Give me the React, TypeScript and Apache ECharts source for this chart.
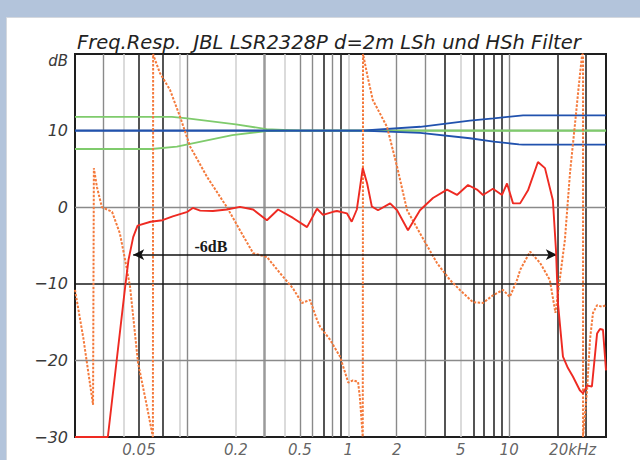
import React, { useEffect, useRef } from 'react';
import * as echarts from 'echarts';

// ---- data (frequency in kHz, level in dB) ----
const xMin = 0.02;
const xMax = 40;
const yMin = -30;
const yMax = 20;
const xLabelValues = [0.05, 0.2, 0.5, 1, 2, 5, 10, 20];
const xLabelTexts = ['0.05', '0.2', '0.5', '1', '2', '5', '10', '20kHz'];
const gridDark = [0.05, 0.07, 0.7, 0.9, 4, 6, 7, 8, 9, 20, 30];
const gridGray = [0.03, 0.1, 0.5, 0.6, 0.8, 2, 3, 10];
const gridGrayWide = [0.3];
const gridLight = [0.04, 0.09, 0.2, 0.4, 1, 5];
const hGridGray = [10, 0, -20];
const hGridDark = [-10];

const response: number[][] = [
  [0.02, -30], [0.032, -30], [0.041, -10.4], [0.043, -6.9], [0.046, -3.9], [0.049, -2.4],
  [0.059, -1.9], [0.07, -1.7], [0.081, -1.2], [0.09, -0.9], [0.1, -0.6], [0.108, -0.1],
  [0.12, -0.45], [0.144, -0.5], [0.176, -0.3], [0.212, 0.05], [0.256, -0.3], [0.312, -1.7],
  [0.366, -0.3], [0.453, -1.4], [0.554, -2.6], [0.639, -0.2], [0.696, -1.0], [0.804, -0.6],
  [0.85, -0.5], [0.98, -0.8], [1.05, -1.9], [1.13, -0.3], [1.23, 5.1], [1.31, 3.1],
  [1.4, 0.1], [1.53, -0.4], [1.82, 0.5], [2.01, -0.4], [2.35, -3.0], [2.79, -0.4],
  [3.36, 1.2], [4.11, 2.3], [4.74, 1.6], [5.55, 2.9], [6.31, 2.3], [6.88, 1.6],
  [7.93, 2.4], [9.03, 1.6], [9.7, 3.1], [10.57, 0.5], [11.7, 0.5], [13.1, 2.2],
  [15.1, 5.9], [16.7, 5.1], [18.7, 0.9], [19.55, -5.6], [20.1, -12.5], [21.6, -19.5],
  [23.2, -21], [24.9, -22.1], [27.5, -23.9], [28.8, -24.3], [30.5, -23.3], [32.7, -23.4],
  [35.2, -16.5], [36.7, -15.9], [38.3, -16], [40, -21.3],
];

const phase: number[][] = [
  [0.02, -10.8], [0.0225, -17], [0.0259, -25.8], [0.0262, 5.1], [0.0274, 2.6], [0.0294, 0],
  [0.034, -0.6], [0.038, -3.4], [0.041, -6.9], [0.044, -10.4], [0.0493, -20.3], [0.056, -26],
  [0.061, -30], [0.0612, 20], [0.062, 19.6], [0.0675, 17.5], [0.078, 15.3], [0.09, 11.8],
  [0.104, 7.9], [0.132, 4.0], [0.176, 0], [0.212, -3], [0.256, -6], [0.312, -6.5],
  [0.376, -8.6], [0.453, -10.6], [0.515, -12.5], [0.578, -12.1], [0.639, -14.7], [0.667, -15.6],
  [0.77, -17.3], [0.888, -19.5], [1.0, -22.9], [1.07, -22.6], [1.15, -22.8], [1.18, -24.8],
  [1.23, -30], [1.235, 20], [1.32, 17], [1.42, 14], [1.74, 10.5], [2.01, 5.3],
  [2.32, -0.4], [2.79, -3.4], [3.56, -7.3], [4.29, -9.5], [4.94, -10.8], [5.96, -12.4],
  [6.88, -12.5], [7.93, -11.5], [9.16, -10.8], [10.1, -11.7], [11.2, -9.5], [11.7, -8.2],
  [13.5, -5.8], [15.6, -7.3], [17.9, -9.5], [19.4, -13.8], [22.2, -4.3], [23.9, 4.5],
  [25.7, 11], [27.2, 16.2], [28.4, 19.9], [28.8, 20], [28.8, -30], [30.5, -23.9],
  [31.8, -17.3], [33.2, -13.8], [35.2, -12.8], [37.8, -13], [40, -12.8],
];

const lowShelfUp: number[][] = [
  [0.02, 11.8], [0.08, 11.8], [0.1, 11.6], [0.2, 10.8], [0.31, 10.2], [0.5, 10], [40, 10],
];
const lowShelfDown: number[][] = [
  [0.02, 7.6], [0.06, 7.6], [0.086, 7.9], [0.19, 9.4], [0.31, 9.95], [0.5, 10], [40, 10],
];
const highShelfUp: number[][] = [
  [0.02, 10], [1.2, 10], [2.8, 10.5], [5.7, 11.3], [8, 11.6], [12.2, 12.0], [40, 12.0],
];
const highShelfDown: number[][] = [
  [0.02, 10], [1.2, 10], [2.8, 9.7], [5.7, 9.0], [8, 8.55], [11.5, 8.2], [12.2, 8.16], [40, 8.16],
];

const arrowLevel = -6.2;
const arrowStart = 0.046;
const arrowEnd = 19.8;
const arrowLabel = '-6dB';
const arrowLabelAt = [0.14, -5.1];
const titleText = 'Freq.Resp.  JBL LSR2328P d=2m LSh und HSh Filter';

const RED = '#ee2a22';
const ORANGE = '#f47a3c';
const GREEN = '#7fcb6c';
const BLUE = '#2152ae';

export default function App() {
  const ref = useRef<HTMLDivElement>(null);
  useEffect(() => {
    if (!ref.current) return;
    const chart = echarts.init(ref.current, undefined, { renderer: 'svg' });

    const vLine = (v: number, color: string, width: number) => ({
      xAxis: v,
      lineStyle: { color, width, type: 'solid' },
    });
    const hLine = (v: number, color: string, width: number) => ({
      yAxis: v,
      lineStyle: { color, width, type: 'solid' },
    });

    const gridMarks = [
      ...gridLight.map((v) => vLine(v, '#cfcfcf', 1.5)),
      ...gridGray.map((v) => vLine(v, '#8a8a8a', 1.4)),
      ...gridGrayWide.map((v) => vLine(v, '#9a9a9a', 2.5)),
      ...gridDark.map((v) => vLine(v, '#2a2a2a', 1.6)),
      ...hGridGray.map((v) => hLine(v, '#8a8a8a', 1.3)),
      ...hGridDark.map((v) => hLine(v, '#1a1a1a', 1.6)),
    ];

    const fontFamily = 'DejaVu Sans';

    chart.setOption({
      animation: false,
      backgroundColor: '#b3c4db',
      graphic: [
        {
          type: 'rect',
          shape: { x: 6.5, y: 17.5, width: 640, height: 450 },
          style: { fill: '#ffffff', stroke: '#d4d8de', lineWidth: 1 },
          z: -10,
        },
      ],
      title: {
        text: titleText,
        left: 72,
        top: 27,
        textStyle: {
          fontFamily,
          fontStyle: 'italic',
          fontWeight: 'normal',
          fontSize: 19.5,
          color: '#222',
        },
      },
      grid: {
        left: 75,
        top: 54,
        width: 531,
        height: 383,
        show: true,
        borderColor: '#1e1e1e',
        borderWidth: 2,
        backgroundColor: 'transparent',
      },
      xAxis: {
        type: 'log',
        logBase: 10,
        min: xMin,
        max: xMax,
        axisLine: { show: false },
        axisTick: { show: false },
        axisLabel: { show: false },
        splitLine: { show: false },
        minorSplitLine: { show: false },
      },
      yAxis: {
        type: 'value',
        min: yMin,
        max: yMax,
        interval: 10,
        axisLine: { show: false },
        axisTick: { show: false },
        splitLine: { show: false },
        axisLabel: {
          margin: 7,
          fontFamily,
          fontStyle: 'italic',
          fontSize: 16,
          color: '#3a3a3a',
          formatter: (v: number) =>
            v === yMax ? '{u|dB}' : v < 0 ? '\u2212' + String(-v) : String(v),
          rich: {
            u: {
              fontFamily,
              fontStyle: 'italic',
              fontSize: 15,
              color: '#3a3a3a',
              padding: [14, 0, 0, 0],
            },
          },
        },
      },
      series: [
        {
          name: 'grid',
          type: 'line',
          data: [],
          z: 1,
          silent: true,
          markLine: {
            silent: true,
            z: 1,
            symbol: 'none',
            label: { show: false },
            animation: false,
            data: gridMarks,
          },
        },
        {
          name: 'xlabels',
          type: 'scatter',
          symbolSize: 0,
          clip: false,
          silent: true,
          z: 6,
          data: xLabelValues.map((v, i) => ({
            value: [v, yMin],
            label: {
              show: true,
              formatter: xLabelTexts[i],
              position: 'bottom',
              distance: 5,
              align: 'center',
              fontFamily,
              fontStyle: 'italic',
              fontSize: 15,
              color: '#3a3a3a',
              offset: i === xLabelTexts.length - 1 ? [15, 0] : [0, 0],
            },
          })),
        },
        {
          name: 'lsUp', type: 'line', data: lowShelfUp, showSymbol: false, z: 2,
          lineStyle: { color: GREEN, width: 1.8 },
        },
        {
          name: 'lsDown', type: 'line', data: lowShelfDown, showSymbol: false, z: 2,
          lineStyle: { color: GREEN, width: 1.8 },
        },
        {
          name: 'hsUp', type: 'line', data: highShelfUp, showSymbol: false, z: 3,
          lineStyle: { color: BLUE, width: 1.8 },
        },
        {
          name: 'hsDown', type: 'line', data: highShelfDown, showSymbol: false, z: 3,
          lineStyle: { color: BLUE, width: 1.8 },
        },
        {
          name: 'phase', type: 'line', data: phase, showSymbol: false, z: 4,
          lineStyle: { color: ORANGE, width: 2, type: [2.5, 1.5] },
        },
        {
          name: 'response', type: 'line', data: response, showSymbol: false, z: 5,
          lineStyle: { color: RED, width: 1.9 },
          markLine: {
            silent: true,
            z: 5,
            symbol: ['arrow', 'arrow'],
            symbolSize: [8, 11],
            label: { show: false },
            lineStyle: { color: '#111', width: 1.5, type: 'solid' },
            data: [[{ coord: [arrowStart, arrowLevel] }, { coord: [arrowEnd, arrowLevel] }]],
          },
          markPoint: {
            silent: true,
            z: 6,
            symbol: 'circle',
            symbolSize: 0,
            data: [
              {
                coord: arrowLabelAt,
                label: {
                  show: true,
                  formatter: arrowLabel,
                  position: 'inside',
                  fontFamily: 'Liberation Serif',
                  fontWeight: 'bold',
                  fontSize: 16,
                  color: '#1a1a1a',
                },
              },
            ],
          },
        },
      ],
    });
    return () => chart.dispose();
  }, []);
  return (
    <div
      ref={ref}
      style={{ position: 'absolute', left: 0, top: 0, width: 640, height: 460 }}
    />
  );
}
